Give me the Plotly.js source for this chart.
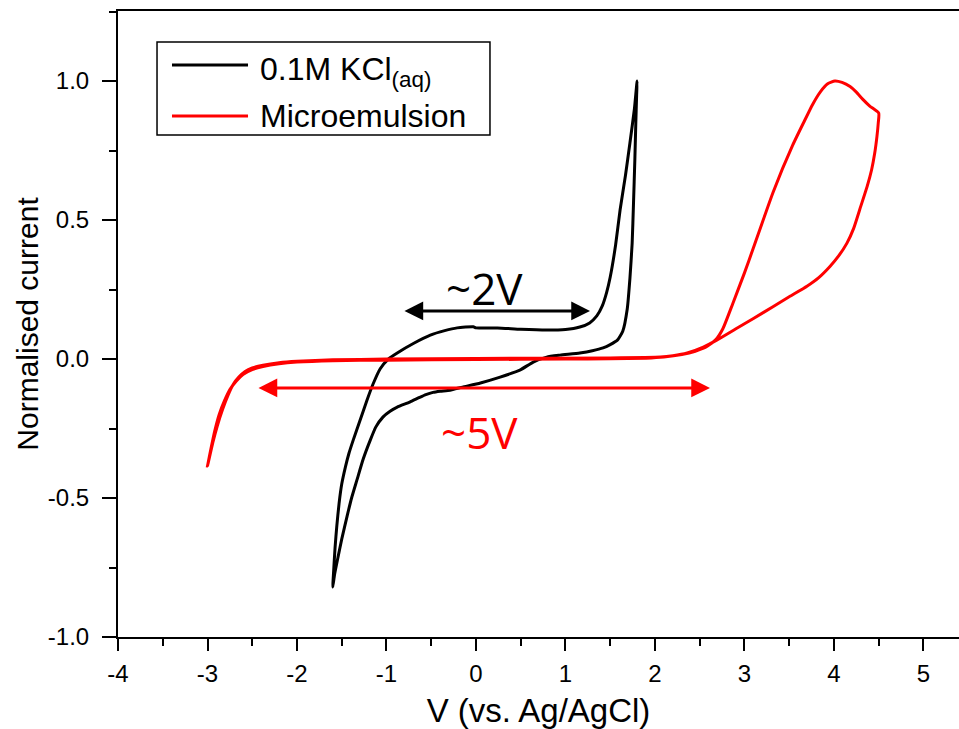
<!DOCTYPE html>
<html>
<head>
<meta charset="utf-8">
<script src="https://cdn.plot.ly/plotly-3.0.1.min.js"></script>
<style>html,body{margin:0;padding:0;background:#fff;}#chart{width:959px;height:729px;}</style>
</head>
<body>
<div id="chart"></div>
<script>
// Series names and colours
const seriesNames = ["0.1M KCl<sub>(aq)</sub>", "Microemulsion"];
const seriesColors = ["#000000", "#ff0000"];

// 0.1M KCl(aq) cyclic voltammogram (V vs Ag/AgCl, normalised current)
const kclV = [-1.60,-1.59,-1.575,-1.555,-1.53,-1.50,-1.46,-1.42,-1.37,-1.30,-1.22,-1.15,-1.07,-0.98,-0.88,-0.70,-0.51,-0.35,-0.21,-0.03,0.00,0.24,0.50,0.79,1.00,1.16,1.27,1.35,1.41,1.46,1.50,1.56,1.61,1.67,1.72,1.77,1.80,
              1.795,1.785,1.775,1.76,1.745,1.72,1.69,1.64,1.58,1.50,1.42,1.30,1.16,0.94,0.79,0.64,0.49,0.27,0.05,-0.15,-0.29,-0.40,-0.48,-0.56,-0.63,-0.74,-0.88,-0.96,-1.04,-1.12,-1.18,-1.26,-1.33,-1.39,-1.44,-1.50,-1.54,-1.58,-1.60];
const kclI = [-0.82,-0.76,-0.68,-0.60,-0.52,-0.45,-0.39,-0.34,-0.29,-0.225,-0.15,-0.09,-0.035,0.000,0.022,0.056,0.086,0.102,0.112,0.116,0.112,0.112,0.107,0.104,0.106,0.115,0.130,0.155,0.19,0.24,0.295,0.41,0.536,0.66,0.777,0.90,1.0,
              0.95,0.84,0.716,0.56,0.417,0.29,0.18,0.10,0.068,0.052,0.040,0.030,0.022,0.014,0.007,-0.011,-0.040,-0.065,-0.086,-0.101,-0.112,-0.116,-0.120,-0.128,-0.138,-0.155,-0.173,-0.188,-0.209,-0.245,-0.291,-0.36,-0.435,-0.50,-0.565,-0.648,-0.71,-0.775,-0.82];

// Microemulsion cyclic voltammogram
const emuV = [-3.00,-2.96,-2.92,-2.87,-2.81,-2.75,-2.68,-2.60,-2.50,-2.38,-2.20,-2.00,-1.60,-1.00,0.00,1.00,1.50,1.90,2.10,2.30,2.45,2.58,2.68,2.76,2.87,3.00,3.10,3.32,3.54,3.66,3.76,3.85,3.93,4.01,4.09,4.18,4.25,4.32,4.40,4.50,
              4.495,4.48,4.455,4.42,4.37,4.30,4.22,4.145,4.05,3.955,3.83,3.698,3.50,3.318,3.10,2.90,2.69,2.54,2.36,2.20,2.06,1.50,0.00,-1.00,-1.60,-2.00,-2.20,-2.38,-2.50,-2.58,-2.65,-2.71,-2.77,-2.83,-2.89,-2.94,-3.00];
const emuI = [-0.385,-0.32,-0.26,-0.20,-0.15,-0.11,-0.08,-0.055,-0.038,-0.027,-0.017,-0.011,-0.006,-0.004,-0.002,0.000,0.001,0.003,0.007,0.016,0.028,0.045,0.070,0.110,0.200,0.310,0.400,0.600,0.770,0.850,0.915,0.962,0.990,1.000,0.995,0.980,0.960,0.935,0.910,0.885,
              0.850,0.800,0.740,0.680,0.620,0.550,0.470,0.417,0.370,0.333,0.293,0.262,0.224,0.188,0.146,0.108,0.068,0.043,0.022,0.012,0.007,0.004,0.002,0.000,-0.003,-0.008,-0.013,-0.022,-0.032,-0.045,-0.065,-0.090,-0.130,-0.180,-0.240,-0.300,-0.385];

// Potential-window arrows and labels
const windowLabels = ["~2V", "~5V"];
const windowStart = [-0.816, -2.447];
const windowEnd = [1.274, 2.615];
const windowLevel = [0.173, -0.104];
const windowTextV = [0.10, 0.04];
const windowTextI = [0.255, -0.263];

// Tick labels
const xTickVals = [-4, -3, -2, -1, 0, 1, 2, 3, 4, 5];
const xTickText = ["-4", "-3", "-2", "-1", "0", "1", "2", "3", "4", "5"];
const yTickVals = [-1.0, -0.5, 0.0, 0.5, 1.0];
const yTickText = ["-1.0", "-0.5", "0.0", "0.5", "1.0"];

const traces = [
  {x: kclV, y: kclI, name: seriesNames[0], type: "scatter", mode: "lines", showlegend: false,
   line: {color: seriesColors[0], width: 3, shape: "spline", smoothing: 0.5}},
  {x: emuV, y: emuI, name: seriesNames[1], type: "scatter", mode: "lines", showlegend: false,
   line: {color: seriesColors[1], width: 3, shape: "spline", smoothing: 0.5}}
];

const annotations = [];
for (let i = 0; i < windowLabels.length; i++) {
  annotations.push({
    xref: "x", yref: "y", axref: "x", ayref: "y",
    x: windowEnd[i], y: windowLevel[i], ax: windowStart[i], ay: windowLevel[i],
    text: "", showarrow: true, arrowside: "end+start",
    arrowhead: 2, startarrowhead: 2, arrowsize: 1.25, startarrowsize: 1.25,
    arrowwidth: 3, arrowcolor: seriesColors[i], standoff: 0, startstandoff: 0
  });
  annotations.push({
    xref: "x", yref: "y", x: windowTextV[i], y: windowTextI[i],
    text: windowLabels[i], showarrow: false,
    font: {family: "Open Sans, Noto Sans, sans-serif", size: 44, color: seriesColors[i]}
  });
}

// Hand-drawn legend (long line samples like the reference)
const font = "Liberation Sans, Arial, sans-serif";
const legendRowY = [0.9137, 0.8323];
const shapes = [{
  type: "rect", xref: "paper", yref: "paper", x0: 0.0464, x1: 0.4423, y0: 0.8019, y1: 0.9505,
  line: {color: "#000000", width: 1.5}, fillcolor: "rgba(255,255,255,0)"
}];
for (let i = 0; i < seriesNames.length; i++) {
  shapes.push({type: "line", xref: "paper", yref: "paper", x0: 0.0642, x1: 0.1546,
               y0: legendRowY[i], y1: legendRowY[i], line: {color: seriesColors[i], width: 3}});
  annotations.push({
    xref: "paper", yref: "paper", x: 0.1665, y: legendRowY[i], xanchor: "left", yanchor: "middle",
    yshift: i === 0 ? -6 : 0,
    text: seriesNames[i], showarrow: false,
    font: {family: font, size: 32, color: "#000000"}
  });
}

const layout = {
  width: 959, height: 729,
  margin: {l: 118, r: 0, t: 11, b: 92},
  paper_bgcolor: "#ffffff", plot_bgcolor: "#ffffff",
  font: {family: font, color: "#000000"},
  showlegend: false,
  xaxis: {
    range: [-4, 5.397], autorange: false,
    tickmode: "array", tickvals: xTickVals, ticktext: xTickText,
    showline: true, linecolor: "#000000", linewidth: 2, mirror: true,
    ticks: "outside", ticklen: 12, tickwidth: 2, tickcolor: "#000000", ticklabelstandoff: 2,
    minor: {tickmode: "linear", tick0: 0, dtick: 0.5, ticks: "outside", ticklen: 7, tickwidth: 2, tickcolor: "#000000"},
    showgrid: false, zeroline: false,
    tickfont: {family: font, size: 24, color: "#000000"},
    title: {text: "V (vs. Ag/AgCl)", font: {family: font, size: 33, color: "#000000"}, standoff: 20},
    automargin: false
  },
  yaxis: {
    range: [-1.0, 1.252], autorange: false,
    tickmode: "array", tickvals: yTickVals, ticktext: yTickText,
    showline: true, linecolor: "#000000", linewidth: 2, mirror: false,
    ticks: "outside", ticklen: 14, tickwidth: 2, tickcolor: "#000000", ticklabelstandoff: 8,
    minor: {tickmode: "linear", tick0: 0, dtick: 0.25, ticks: "outside", ticklen: 7, tickwidth: 2, tickcolor: "#000000"},
    showgrid: false, zeroline: false,
    tickfont: {family: font, size: 24, color: "#000000"},
    title: {text: "Normalised current", font: {family: font, size: 30, color: "#000000"}, standoff: 0},
    automargin: false
  },
  shapes: shapes,
  annotations: annotations
};

Plotly.newPlot("chart", traces, layout, {displayModeBar: false, responsive: false});
</script>
</body>
</html>
